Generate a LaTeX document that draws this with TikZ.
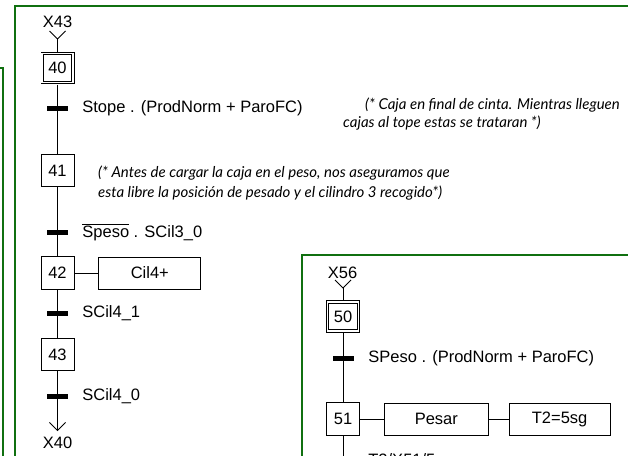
\documentclass[tikz,border=0pt]{standalone}
\usepackage{fontspec}
\setmainfont{Liberation Sans}
\newfontfamily\notafont{Lato}
\usetikzlibrary{positioning,arrows.meta}
\definecolor{verdemarco}{RGB}{16,112,16}

\begin{document}
\begin{tikzpicture}[x=1pt, y=-1pt,
    every node/.style={font=\fontsize{16.5}{19}\selectfont},
    etapa/.style={draw, rectangle, minimum width=33pt, minimum height=32.5pt, inner sep=0pt, line width=0.8pt},
    inicial/.style={etapa, double, double distance=1.6pt, minimum width=30.8pt, minimum height=29pt},
    accion/.style={draw, rectangle, minimum height=32pt, inner sep=0pt, line width=0.8pt},
    trans/.style={fill, rectangle, minimum width=21pt, minimum height=5pt, inner sep=0pt},
    recep/.style={inner sep=0pt},
    nota/.style={font=\notafont\itshape\fontsize{15}{20}\selectfont, inner sep=0pt, anchor=west, align=left},
    marco/.style={draw=verdemarco, line width=2pt},
    enlace/.style={line width=0.8pt}]
				\useasboundingbox (0,0) rectangle (628,455);
				\clip (0,0) rectangle (628,455);
				% marcos
				\draw[marco] (-30,68) -| (3,480);
				\draw[marco] (15,480) |- (660,6);
				\draw[marco] (302,480) |- (660,255);
				% grafcet 40
				\node (x43) at (57.5,22) {X43};
				\coordinate (v40) at (57.5,39);
				\node[inicial] (e40) at (57.5,68) {40};
				\node[trans] (t40) at (57.5,108) {};
				\node[recep, right=14pt of t40] (r40) {Stope . (ProdNorm + ParoFC)};
				\node[etapa] (e41) at (57.5,170.5) {41};
				\node[trans] (t41) at (57.5,232) {};
				\node[recep, right=14pt of t41] (r41) {$\overline{\mbox{Speso}}$ . SCil3\_0};
				\node[etapa] (e42) at (57.5,273) {42};
				\node[accion, minimum width=102pt, right=24pt of e42] (a42) {Cil4+};
				\node[trans] (t42) at (57.5,313) {};
				\node[recep, right=14pt of t42] (r42) {SCil4\_1};
				\node[etapa] (e43) at (57.5,354.5) {43};
				\node[trans] (t43) at (57.5,396) {};
				\node[recep, right=14pt of t43] (r43) {SCil4\_0};
				\coordinate (f43) at (57.5,431);
				\node (x40) at (57.5,443) {X40};
				\node[nota] (n40a) at (365,105) {(* Caja en final de cinta. Mientras lleguen};
				\node[nota] (n40b) at (343,123) {cajas al tope estas se trataran *)};
				\node[nota] (n41) at (98,183) {(* Antes de cargar la caja en el peso, nos aseguramos que\\esta libre la posición de pesado y el cilindro 3 recogido*)};
				\draw[enlace] (v40) ++(-8,-8) -- (v40) -- ++(8,-8);
				\draw[enlace, shorten >=1.6pt] (v40) -- (e40);
				\draw[enlace, shorten <=1.6pt] (e40) -- (e41);
				\draw[enlace] (e41) -- (e42);
				\draw[enlace] (e42) -- (a42);
				\draw[enlace] (e42) -- (e43);
				\draw[enlace, -{Straight Barb[length=8pt, width=16pt]}] (e43) -- (f43);
				% grafcet 50
				\node (x56) at (342.5,273) {X56};
				\coordinate (v50) at (343,288);
				\node[inicial] (e50) at (343,316.5) {50};
				\node[trans] (t50) at (343.5,358) {};
				\node[recep, right=14pt of t50] (r50) {SPeso . (ProdNorm + ParoFC)};
				\node[etapa] (e51) at (343,419) {51};
				\node[accion, minimum width=104pt, right=24pt of e51] (a51) {Pesar};
				\node[accion, minimum width=101pt, right=20pt of a51] (t2) {T2=5sg};
				\node[trans] (t51) at (343.5,461) {};
				\node[recep, right=14pt of t51] (r51) {T2/X51/5sg};
				\coordinate (f51) at (343,480);
				\draw[enlace] (v50) ++(-8,-8) -- (v50) -- ++(8,-8);
				\draw[enlace, shorten >=1.6pt] (v50) -- (e50);
				\draw[enlace, shorten <=1.6pt] (e50) -- (e51);
				\draw[enlace] (e51) -- (a51);
				\draw[enlace] (a51) -- (t2);
				\draw[enlace] (e51) -- (f51);
			\end{tikzpicture}
\end{document}
